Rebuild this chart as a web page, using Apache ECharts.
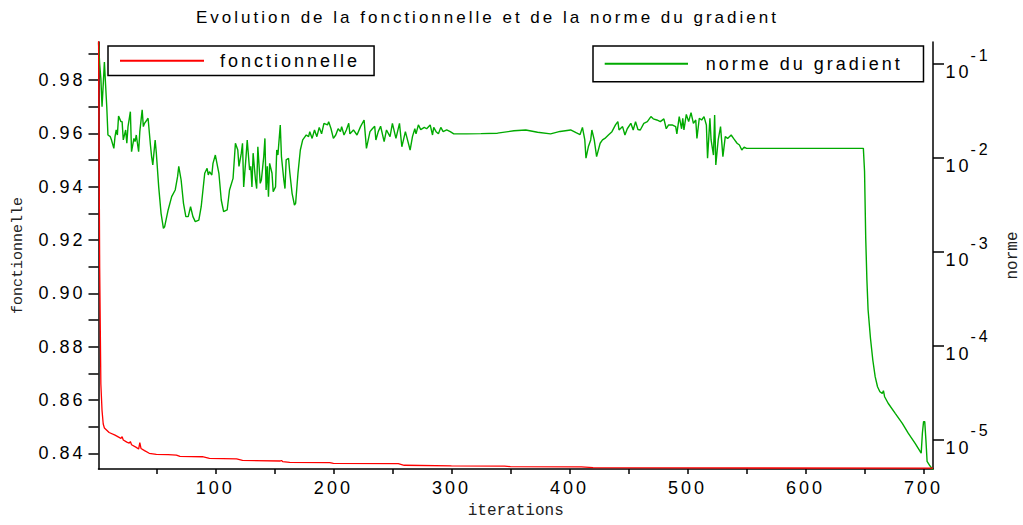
<!DOCTYPE html>
<html>
<head>
<meta charset="utf-8">
<script src="https://cdn.jsdelivr.net/npm/echarts@6/dist/echarts.min.js"></script>
<style>
  html, body { margin: 0; padding: 0; background: #fff; }
  #chart { width: 1023px; height: 525px; }
  /* proportional texts of this plot use a widened letter spacing */
  #chart text[style*="Liberation Sans"] { letter-spacing: 3px; }
</style>
</head>
<body>
<div id="chart"></div>
<script>
// ---- axis ticks and labels ----
const iterTicks = [50, 100, 150, 200, 250, 300, 350, 400, 450, 500, 550, 600, 650, 700];
const iterLabels = [100, 200, 300, 400, 500, 600, 700];
const fonctTicks = [0.84, 0.85, 0.86, 0.87, 0.88, 0.89, 0.90, 0.91, 0.92, 0.93, 0.94, 0.95, 0.96, 0.97, 0.98, 0.99];
const fonctLabels = [0.84, 0.86, 0.88, 0.90, 0.92, 0.94, 0.96, 0.98];
const normeTicks = [1e-5, 1e-4, 1e-3, 1e-2, 1e-1];

// ---- series: [iteration, value] ----
const fonctionnelle = [
  [1, 1.0], [2, 0.91], [3, 0.866], [4, 0.856], [5, 0.851], [6, 0.8495],
  [10, 0.8478], [15, 0.8468], [20, 0.8456], [21, 0.8462], [22, 0.8450],
  [25, 0.8442], [27, 0.8438], [28, 0.8444], [29, 0.8432], [33, 0.8422],
  [35, 0.8416], [36, 0.8440], [37, 0.8418], [40, 0.8410], [44, 0.8400],
  [50, 0.8396], [60, 0.8395], [67, 0.8393], [70, 0.8388], [89, 0.8387],
  [95, 0.8381], [118, 0.8379], [123, 0.8373], [155, 0.8371], [156, 0.8373],
  [157, 0.8369], [163, 0.8366], [197, 0.8365], [200, 0.8362], [255, 0.8361],
  [260, 0.8355], [300, 0.8353], [345, 0.8352], [350, 0.8350], [410, 0.8349],
  [420, 0.8346], [500, 0.8345], [708, 0.8344]
];

const normeGradient = [
  [1, 0.17], [2, 0.1], [3, 0.07], [4, 0.035], [5, 0.06], [6, 0.105], [7, 0.06],
  [8, 0.035], [9, 0.0175], [11, 0.0168], [12, 0.0155], [14, 0.0126], [15, 0.0168],
  [16, 0.0198], [17, 0.0175], [18, 0.0279], [20, 0.0243], [21, 0.0243], [22, 0.0155],
  [24, 0.0198], [25, 0.0143], [26, 0.0215], [28, 0.031], [29, 0.0116], [31, 0.0161],
  [32, 0.0149], [33, 0.0175], [35, 0.0116], [36, 0.019], [38, 0.0324], [39, 0.0215],
  [40, 0.0233], [42, 0.0253], [43, 0.0264], [45, 0.0137], [46, 0.0103], [47, 0.0084],
  [49, 0.0155], [50, 0.0112], [52, 0.0049], [54, 0.00256], [56, 0.00177], [57, 0.00184],
  [60, 0.00278], [63, 0.00385], [66, 0.00454], [68, 0.0063], [69, 0.0081], [71, 0.0058],
  [73, 0.00327], [75, 0.00236], [77, 0.00236], [79, 0.00301], [81, 0.00236], [83, 0.00209],
  [86, 0.00217], [88, 0.00301], [91, 0.00684], [93, 0.00773], [94, 0.00656], [95, 0.00711],
  [97, 0.00656], [98, 0.00873], [100, 0.0107], [103, 0.00684], [105, 0.00355], [107, 0.00267],
  [110, 0.00278], [112, 0.00454], [115, 0.00604], [117, 0.0143], [119, 0.0121], [120, 0.0081],
  [122, 0.0112], [123, 0.0143], [124, 0.0049], [126, 0.0103], [127, 0.0155], [129, 0.0074],
  [130, 0.0081], [131, 0.0049], [132, 0.0112], [134, 0.0058], [135, 0.0047], [136, 0.0131],
  [138, 0.00534], [139, 0.0058], [141, 0.0103], [142, 0.0161], [143, 0.00454], [144, 0.0081],
  [145, 0.00385], [146, 0.00873], [148, 0.00684], [149, 0.00436], [151, 0.0049], [152, 0.0121],
  [153, 0.0107], [155, 0.0224], [156, 0.0103], [158, 0.0058], [159, 0.0047], [160, 0.0095],
  [162, 0.0099], [163, 0.0071], [165, 0.00418], [167, 0.00314], [168, 0.00327], [170, 0.00684],
  [172, 0.0121], [174, 0.0155], [176, 0.0168], [177, 0.0175], [179, 0.0168], [180, 0.019],
  [182, 0.0161], [184, 0.0198], [186, 0.0168], [188, 0.0211], [190, 0.018], [192, 0.0233],
  [195, 0.0224], [196, 0.0243], [198, 0.0204], [200, 0.0161], [202, 0.0175], [204, 0.0204],
  [206, 0.019], [207, 0.0215], [209, 0.0175], [211, 0.0198], [213, 0.0233], [214, 0.018],
  [217, 0.0198], [220, 0.0175], [223, 0.0215], [226, 0.0253], [228, 0.0126], [231, 0.019],
  [233, 0.0204], [235, 0.0217], [236, 0.0155], [238, 0.019], [240, 0.0217], [243, 0.0149],
  [245, 0.0198], [248, 0.0168], [250, 0.0233], [253, 0.0161], [256, 0.0233], [258, 0.0131],
  [261, 0.019], [265, 0.0121], [267, 0.0168], [269, 0.0204], [270, 0.018], [272, 0.0224],
  [274, 0.02], [277, 0.0211], [279, 0.0204], [282, 0.0224], [284, 0.0175], [285, 0.0211],
  [287, 0.019], [289, 0.018], [291, 0.0211], [293, 0.019], [296, 0.0198], [299, 0.019],
  [302, 0.018], [313, 0.018], [325, 0.0181], [339, 0.0183], [353, 0.0194], [363, 0.0198],
  [373, 0.0187], [384, 0.018], [392, 0.0191], [401, 0.0198], [406, 0.0184], [409, 0.0177],
  [411, 0.0211], [413, 0.0155], [414, 0.0099], [416, 0.0131], [418, 0.0155], [419, 0.0198],
  [421, 0.0155], [423, 0.0103], [426, 0.0143], [428, 0.0155], [430, 0.0161], [433, 0.0175],
  [436, 0.019], [439, 0.0224], [441, 0.0243], [442, 0.0198], [445, 0.0215], [447, 0.0175],
  [449, 0.0204], [452, 0.0233], [454, 0.0198], [456, 0.0243], [458, 0.02], [460, 0.0198],
  [463, 0.0233], [466, 0.0243], [469, 0.0275], [471, 0.026], [474, 0.0253], [477, 0.0243],
  [480, 0.026], [482, 0.0204], [484, 0.0224], [487, 0.0224], [490, 0.0215], [491, 0.018],
  [493, 0.0275], [495, 0.0204], [496, 0.0264], [497, 0.0198], [499, 0.029], [501, 0.0243],
  [503, 0.0303], [505, 0.0233], [507, 0.0253], [508, 0.0161], [510, 0.0264], [512, 0.0253],
  [514, 0.0275], [516, 0.0224], [517, 0.0099], [519, 0.0264], [520, 0.0155], [522, 0.0107],
  [523, 0.0285], [524, 0.0084], [526, 0.0155], [528, 0.0215], [530, 0.0103], [532, 0.0168],
  [534, 0.0161], [537, 0.0175], [539, 0.0161], [542, 0.0143], [544, 0.0137], [546, 0.0121],
  [548, 0.013], [550, 0.0126], [649, 0.0126], [650, 0.0072], [651, 0.0014], [652, 0.0005],
  [653, 0.00024], [655, 0.00012], [657, 7.0e-5], [659, 4.65e-5], [661, 3.63e-5], [663, 3.21e-5],
  [665, 3.08e-5], [666, 3.29e-5], [667, 2.84e-5], [670, 2.42e-5], [676, 1.89e-5], [682, 1.48e-5],
  [687, 1.16e-5], [693, 9.0e-6], [698, 7.1e-6], [699, 1.16e-5], [700, 1.54e-5], [701, 1.54e-5],
  [702, 9.8e-6], [703, 5.8e-6], [705, 5.3e-6], [708, 4.7e-6]
];

const SANS = 'Liberation Sans';
const MONO = 'Liberation Mono';
const BLACK = '#000';

const chart = echarts.init(document.getElementById('chart'), null, { renderer: 'svg' });

// legend entries show only the line stroke (no marker)
const legendBase = {
  selectedMode: false,
  itemWidth: 84, itemHeight: 14,
  itemStyle: { opacity: 0 },
  borderColor: BLACK, borderWidth: 1.5, backgroundColor: '#fff'
};

chart.setOption({
  animation: false,
  backgroundColor: '#fff',
  title: {
    text: 'Evolution de la fonctionnelle et de la norme du gradient',
    left: 196, top: 9, padding: 0,
    textStyle: { fontFamily: SANS, fontSize: 17, fontWeight: 'normal', color: BLACK }
  },
  legend: [
    Object.assign({}, legendBase, {
      data: ['fonctionnelle'],
      left: 108, top: 46,
      padding: [5.75, 53, 5.75, 11],
      textStyle: { fontFamily: SANS, fontSize: 18, color: BLACK, padding: [0, 0, 0, 11] }
    }),
    Object.assign({}, legendBase, {
      data: ['norme du gradient'],
      left: 593, top: 46,
      padding: [8.85, 71.7, 8.85, 10.7],
      itemWidth: 83.3,
      textStyle: { fontFamily: SANS, fontSize: 18, color: BLACK, padding: [0, 0, 0, 12.7] }
    })
  ],
  grid: { left: 98.5, right: 90, top: 42, bottom: 56, containLabel: false, outerBoundsMode: 'none' },
  xAxis: {
    type: 'value', min: 1, max: 708,
    name: 'iterations', nameLocation: 'middle', nameGap: 34,
    nameTextStyle: { fontFamily: MONO, fontSize: 16, color: '#222' },
    axisLine: { onZero: false, lineStyle: { color: BLACK, width: 1.5 } },
    axisTick: { show: true, customValues: iterTicks, length: 5, lineStyle: { color: BLACK, width: 1.5 } },
    axisLabel: { customValues: iterLabels, margin: 10, fontFamily: SANS, fontSize: 18, color: BLACK },
    splitLine: { show: false }
  },
  yAxis: [
    {
      type: 'value', position: 'left', min: 0.8341, max: 0.9943,
      name: 'fonctionnelle', nameLocation: 'middle', nameGap: 73, nameRotate: 90,
      nameTextStyle: { fontFamily: MONO, fontSize: 15, color: '#222' },
      axisLine: { show: true, lineStyle: { color: BLACK, width: 1.5 } },
      axisTick: { show: true, customValues: fonctTicks, length: 10, lineStyle: { color: BLACK, width: 1.5 } },
      axisLabel: {
        customValues: fonctLabels, margin: 13, fontFamily: SANS, fontSize: 18, color: BLACK,
        formatter: v => v.toFixed(2)
      },
      splitLine: { show: false }
    },
    {
      type: 'log', logBase: 10, position: 'right', min: 4.82e-6, max: 0.1715,
      name: 'norme', nameLocation: 'middle', nameGap: 72, nameRotate: 90,
      nameTextStyle: { fontFamily: MONO, fontSize: 16, color: '#222' },
      axisLine: { show: true, lineStyle: { color: BLACK, width: 1.5 } },
      axisTick: { show: true, customValues: normeTicks, length: 11, lineStyle: { color: BLACK, width: 1.5 } },
      axisLabel: {
        customValues: normeTicks, margin: 12.5, color: BLACK,
        formatter: v => '{b|10}{s|' + Math.round(Math.log10(v)) + '}',
        rich: {
          b: { fontFamily: SANS, fontSize: 18, color: BLACK, padding: [17, 0, 0, 0] },
          s: { fontFamily: SANS, fontSize: 16, color: BLACK, padding: [0, 0, 17, 5] }
        }
      },
      splitLine: { show: false }
    }
  ],
  series: [
    {
      name: 'norme du gradient', type: 'line', yAxisIndex: 1,
      data: normeGradient, symbol: 'none', showSymbol: false,
      lineStyle: { color: '#00aa00', width: 1.4 }, itemStyle: { color: '#00aa00' },
      clip: true
    },
    {
      name: 'fonctionnelle', type: 'line', yAxisIndex: 0,
      data: fonctionnelle, symbol: 'none', showSymbol: false,
      lineStyle: { color: '#ff0000', width: 1.3 }, itemStyle: { color: '#ff0000' },
      clip: true
    }
  ]
});
</script>
</body>
</html>
